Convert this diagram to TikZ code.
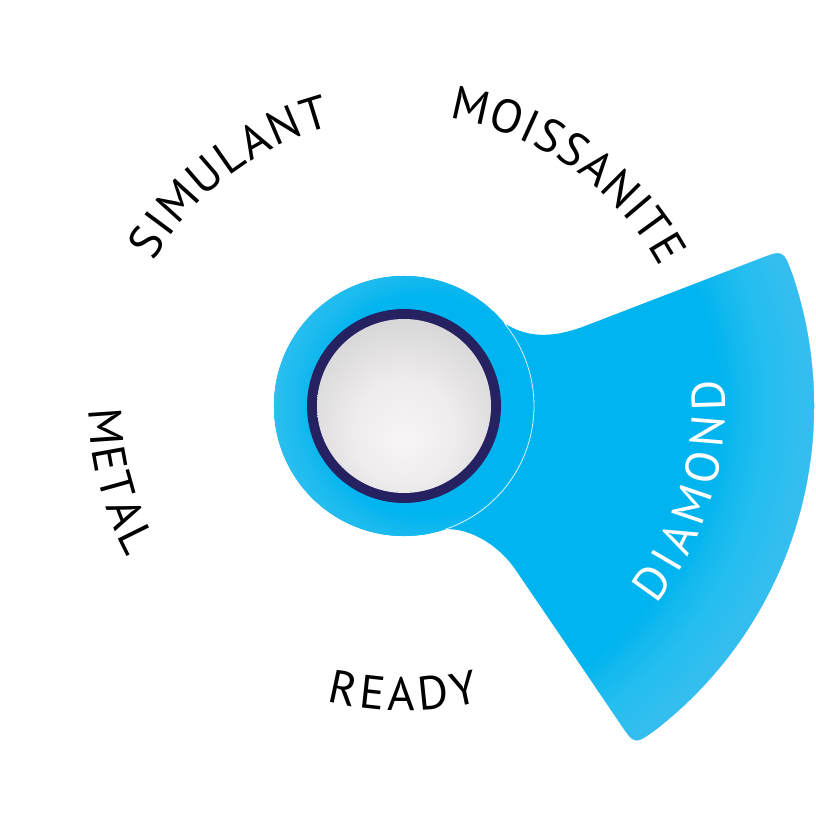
\documentclass[tikz,border=0pt]{standalone}
\usepackage{fontspec}
\setmainfont{PT Sans}
\usetikzlibrary{decorations.text,calc}
\definecolor{pbase}{HTML}{00B4EF}
\definecolor{plight}{HTML}{52CEF7}
\definecolor{navy}{HTML}{262262}
\definecolor{gA}{HTML}{F7F5F6}
\definecolor{gB}{HTML}{EEECED}
\definecolor{gC}{HTML}{C9C8CA}
\definecolor{gD}{HTML}{A6A5A7}
\pgfdeclareradialshading{grayshade}{\pgfpoint{0bp}{-10bp}}{color(0bp)=(gA); color(15bp)=(gB); color(40bp)=(gC); color(52bp)=(gD); color(60bp)=(gD)}
\newcommand\lblfont{\fontsize{47}{47}\selectfont}
\tikzset{lbl/.style={decorate},
  glow/.style={plight, opacity=0.06, even odd rule},
  kglow/.style={plight, opacity=0.07, even odd rule}}
\begin{document}
\begin{tikzpicture}[x=1pt,y=1pt]
\useasboundingbox (0,0) rectangle (816,816);
\fill[white] (0,0) rectangle (816,816);
\coordinate (C) at (404,410);
\coordinate (K) at (429,410);
\def\ptrpath{($(C)+(39.4:130)$) .. controls (525,480) and (548,476) .. (585,490) -- (758.8,556.9) .. controls (783.1,566.2) .. ($(C)+(18.77:410)$) arc[start angle=18.77, end angle=-52.12, radius=410] .. controls (634.7,71.1) .. (620.1,92.6) -- (515,247) .. controls (500.9,267.7) and (473,288) .. ($(C)+(-71.4:130)$) arc[start angle=-71.4, end angle=-320.6, radius=130] -- cycle}
\fill[pbase] \ptrpath;
% lighter band towards the outer arc of the pointer
\begin{scope}
\clip \ptrpath;
\foreach \r in {318,322.5,...,406}
  \fill[glow] (C) circle[radius=440] (C) circle[radius=\r];
\end{scope}
% knob, lighter towards its left edge
\fill[pbase] (C) circle[radius=130];
\begin{scope}
\clip (C) circle[radius=130];
\foreach \r in {112,116,...,156}
  \fill[kglow] (K) circle[radius=200] (K) circle[radius=\r];
\end{scope}
\draw[white, line width=0.8, opacity=0.85] ($(C)+(39.4:130)$) arc[start angle=39.4, end angle=-71.4, radius=130];
\fill[navy] (C) circle[radius=97];
\shade[shading=grayshade] (C) circle[radius=87];
% labels
\path[lbl, decoration={text along path, text align={fit to path}, text={|\lblfont|SIMULANT}}]
  ($(C)+(150:289)$) arc[start angle=150, end angle=104.5, radius=289];
\path[lbl, decoration={text along path, text align={fit to path}, text={|\lblfont|MOISSANITE}}]
  ($(C)+(81.1:291)$) arc[start angle=81.1, end angle=28.4, radius=291];
\path[lbl, decoration={text along path, text align={fit to path}, text={|\lblfont|METAL}}]
  ($(C)+(180.6:315)$) arc[start angle=180.6, end angle=208.6, radius=315];
\path[lbl, decoration={text along path, text align={fit to path}, text={|\lblfont|READY}}]
  ($(C)+(255.3:305)$) arc[start angle=255.3, end angle=284.5, radius=305];
\path[lbl, decoration={text along path, text align={fit to path}, text color=white, text={|\lblfont|DIAMOND}}]
  ($(C)+(-38.2:321)$) arc[start angle=-38.2, end angle=4.6, radius=321];
\end{tikzpicture}
\end{document}
